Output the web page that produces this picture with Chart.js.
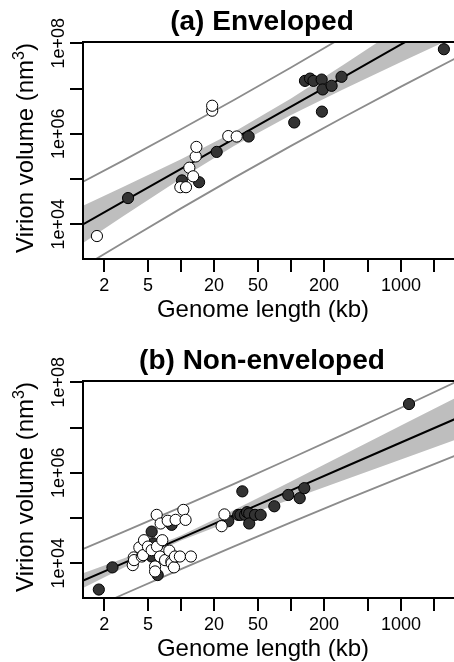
<!DOCTYPE html>
<html><head><meta charset="utf-8">
<script src="https://cdn.jsdelivr.net/npm/chart.js@4.4.1/dist/chart.umd.min.js"></script>
<style>
html,body{margin:0;padding:0;overflow:hidden;background:#fff;width:454px;height:662px;position:relative;}
.panel{position:absolute;left:0;width:500px;height:331px;}
#pa{top:0}
#pb{top:339px}
</style></head><body>
<div class="panel" id="pa"><canvas id="ca" width="500" height="331"></canvas></div>
<div class="panel" id="pb"><canvas id="cb" width="500" height="331"></canvas></div>
<script>
// ---- axis ticks ----
const xTicks = [2, 5, 10, 20, 50, 100, 200, 500, 1000, 2000];
const xTickLabels = [2, 5, 20, 50, 200, 1000];
const yTicks = [1e4, 1e5, 1e6, 1e7, 1e8];
const yLabelValues = [1e4, 1e6, 1e8];
const yLabelTexts = ['1e+04', '1e+06', '1e+08'];
const xTitle = 'Genome length (kb)';
const yTitleMain = 'Virion volume (nm';
const yTitleSup = '3';
const yTitleEnd = ')';
const titleA = '(a) Enveloped';
const titleB = '(b) Non-enveloped';

// ---- fitted lines (genome length kb -> volume nm^3) ----
const lineX = [1.2, 3, 10, 30, 100, 300, 1000, 4000];
const fitA = [9106, 32090, 168000, 760200, 3.979e6, 1.800e7, 9.424e7, 6.332e8];
const predUpperA = [79890, 258600, 1.256e6, 5.515e6, 2.924e7, 1.393e8, 8.039e8, 6.329e9];
const predLowerA = [1038, 3980, 22460, 104700, 541400, 2.326e6, 1.105e7, 6.338e7];
const bandUpperA = [23820, 67740, 275500, 1.082e6, 6.044e6, 3.354e7, 2.308e8, 2.169e9];
const bandLowerA = [3479, 15195, 102400, 534000, 2.618e6, 9.663e6, 3.847e7, 1.849e8];

const fitB = [3840, 10110, 36060, 115000, 410200, 1.308e6, 4.667e6, 2.017e7];
const predUpperB = [19280, 49450, 174500, 564000, 2.094e6, 7.071e6, 2.742e7, 1.336e8];
const predLowerB = [764.6, 2065, 7447, 23430, 80340, 241900, 793700, 3.043e6];
const bandUpperB = [5633, 12760, 40960, 148100, 646000, 2.498e6, 1.104e7, 6.117e7];
const bandLowerB = [2617, 8000, 31720, 89280, 260300, 684600, 1.971e6, 6.645e6];

// ---- points: (a) enveloped ----
const darkAx = [3.30, 10.2, 14.6, 21.1, 41.2, 107, 134, 149, 160, 190, 191, 194, 234, 288, 2455];
const darkAy = [38000, 93300, 85100, 398000, 871000, 1.78e6, 1.48e7, 1.66e7, 1.48e7, 1.58e7, 3.09e6, 9.55e6, 1.15e7, 1.82e7, 7.41e7];
const openAx = [1.72, 9.86, 11.1, 11.9, 12.9, 13.6, 13.8, 19.2, 19.2, 26.9, 32.1];
const openAy = [5500, 66100, 66100, 178000, 115000, 316000, 513000, 3.24e6, 4.17e6, 891000, 871000];

// ---- points: (b) non-enveloped ----
const darkBx = [1.79, 2.38, 5.41, 5.41, 5.62, 6.14, 8.22, 26.9, 33.1, 34.7, 36.1, 38.2, 39.8, 41.7, 41.7, 47.1, 53.0, 70.5, 94.4, 120, 132, 1183];
const darkBy = [2630, 8130, 50100, 14100, 27500, 5500, 70800, 85100, 117500, 117500, 389000, 117500, 134900, 125900, 75900, 117500, 117500, 182000, 323600, 275400, 457100, 3.31e7];
const openBx = [3.64, 3.72, 3.74, 4.18, 4.40, 4.52, 4.61, 5.01, 5.41, 5.81, 5.81, 6.01, 6.05, 6.44, 6.53, 6.76, 7.16, 7.57, 7.83, 8.17, 8.22, 8.63, 8.81, 8.93, 9.77, 10.5, 11.0, 12.3, 23.4, 24.8];
const openBy = [9120, 13490, 11750, 22390, 14130, 15140, 32360, 23440, 19500, 8510, 6610, 117500, 23440, 14130, 75860, 32360, 11750, 87100, 19050, 10960, 10000, 8130, 14130, 91200, 14130, 151400, 91200, 14130, 66070, 120200];

const X_MIN = 1.285, X_MAX = 4240, Y_MIN = 1710, Y_MAX = 1.069e8;
const FONT = '"Liberation Sans", Arial, Helvetica, sans-serif';

const zip = (xs, ys) => xs.map((x, i) => ({x: x, y: ys[i]}));

function decor(title) {
  return {
    id: 'decor',
    afterDraw(chart) {
      const ctx = chart.ctx, a = chart.chartArea;
      ctx.save();
      ctx.strokeStyle = '#000';
      ctx.lineWidth = 2;
      ctx.strokeRect(a.left, a.top, a.right - a.left, a.bottom - a.top);
      ctx.fillStyle = '#000';
      // rotated y tick labels
      const ys = chart.scales.y;
      ctx.font = '18px ' + FONT;
      ctx.textAlign = 'center';
      ctx.textBaseline = 'alphabetic';
      yLabelValues.forEach((v, i) => {
        const p = ys.getPixelForValue(v);
        ctx.save();
        ctx.translate(64, p);
        ctx.rotate(-Math.PI / 2);
        ctx.fillText(yLabelTexts[i], 0, 0);
        ctx.restore();
      });
      // main title
      ctx.font = 'bold 28px ' + FONT;
      ctx.fillText(title, 262, 30);
      // x title
      ctx.font = '24px ' + FONT;
      ctx.fillText(xTitle, 263, 317);
      // y title with superscript
      ctx.save();
      ctx.translate(33, 148);
      ctx.rotate(-Math.PI / 2);
      ctx.textAlign = 'left';
      ctx.font = '24px ' + FONT;
      const w1 = ctx.measureText(yTitleMain).width;
      const w3 = ctx.measureText(yTitleEnd).width;
      ctx.font = '16px ' + FONT;
      const w2 = ctx.measureText(yTitleSup).width;
      let x0 = -(w1 + w2 + w3) / 2;
      ctx.font = '24px ' + FONT;
      ctx.fillText(yTitleMain, x0, 0);
      ctx.font = '16px ' + FONT;
      ctx.fillText(yTitleSup, x0 + w1, -9);
      ctx.font = '24px ' + FONT;
      ctx.fillText(yTitleEnd, x0 + w1 + w2, 0);
      ctx.restore();
      ctx.restore();
    }
  };
}

function makeChart(id, title, d) {
  const tickFont = {family: FONT, size: 18};
  const gridOpt = {drawOnChartArea: false, drawTicks: true, tickLength: 13, color: '#000', lineWidth: 2};
  return new Chart(document.getElementById(id), {
    type: 'scatter',
    data: {datasets: [
      {type: 'line', data: zip(lineX, d.bandUpper), borderWidth: 0, pointRadius: 0, fill: '+1', backgroundColor: '#bebebe', order: 10},
      {type: 'line', data: zip(lineX, d.bandLower), borderWidth: 0, pointRadius: 0, fill: false, order: 10},
      {type: 'line', data: zip(lineX, d.predUpper), borderColor: '#8c8c8c', borderWidth: 1.8, pointRadius: 0, fill: false, order: 8},
      {type: 'line', data: zip(lineX, d.predLower), borderColor: '#8c8c8c', borderWidth: 1.8, pointRadius: 0, fill: false, order: 8},
      {type: 'line', data: zip(lineX, d.fit), borderColor: '#000', borderWidth: 2, pointRadius: 0, fill: false, order: 6},
      {data: zip(d.darkX, d.darkY), backgroundColor: '#333333', borderColor: '#000', borderWidth: 1, pointRadius: 5.6, order: 2},
      {data: zip(d.openX, d.openY), backgroundColor: '#ffffff', borderColor: '#000', borderWidth: 1, pointRadius: 5.6, order: 1}
    ]},
    options: {
      responsive: false, animation: false, events: [],
      layout: {padding: {left: 0, top: 42, right: 30, bottom: 0}},
      plugins: {legend: {display: false}, tooltip: {enabled: false}, title: {display: false}},
      scales: {
        x: {
          type: 'logarithmic', position: 'bottom', min: X_MIN, max: X_MAX, bounds: 'data',
          afterFit(s) { s.height = 72; },
          afterBuildTicks(s) { s.ticks = xTicks.map(v => ({value: v})); },
          ticks: {autoSkip: false, maxRotation: 0, minRotation: 0, padding: 3, color: '#000', font: tickFont,
                  callback: (v) => xTickLabels.includes(v) ? String(v) : ''},
          grid: gridOpt, border: {display: false}
        },
        y: {
          type: 'logarithmic', position: 'left', min: Y_MIN, max: Y_MAX, bounds: 'data',
          afterFit(s) { s.width = 83; },
          afterBuildTicks(s) { s.ticks = yTicks.map(v => ({value: v})); },
          ticks: {display: false},
          grid: gridOpt, border: {display: false}
        }
      }
    },
    plugins: [decor(title)]
  });
}

makeChart('ca', titleA, {fit: fitA, predUpper: predUpperA, predLower: predLowerA, bandUpper: bandUpperA, bandLower: bandLowerA,
  darkX: darkAx, darkY: darkAy, openX: openAx, openY: openAy});
makeChart('cb', titleB, {fit: fitB, predUpper: predUpperB, predLower: predLowerB, bandUpper: bandUpperB, bandLower: bandLowerB,
  darkX: darkBx, darkY: darkBy, openX: openBx, openY: openBy});
</script>
</body></html>
